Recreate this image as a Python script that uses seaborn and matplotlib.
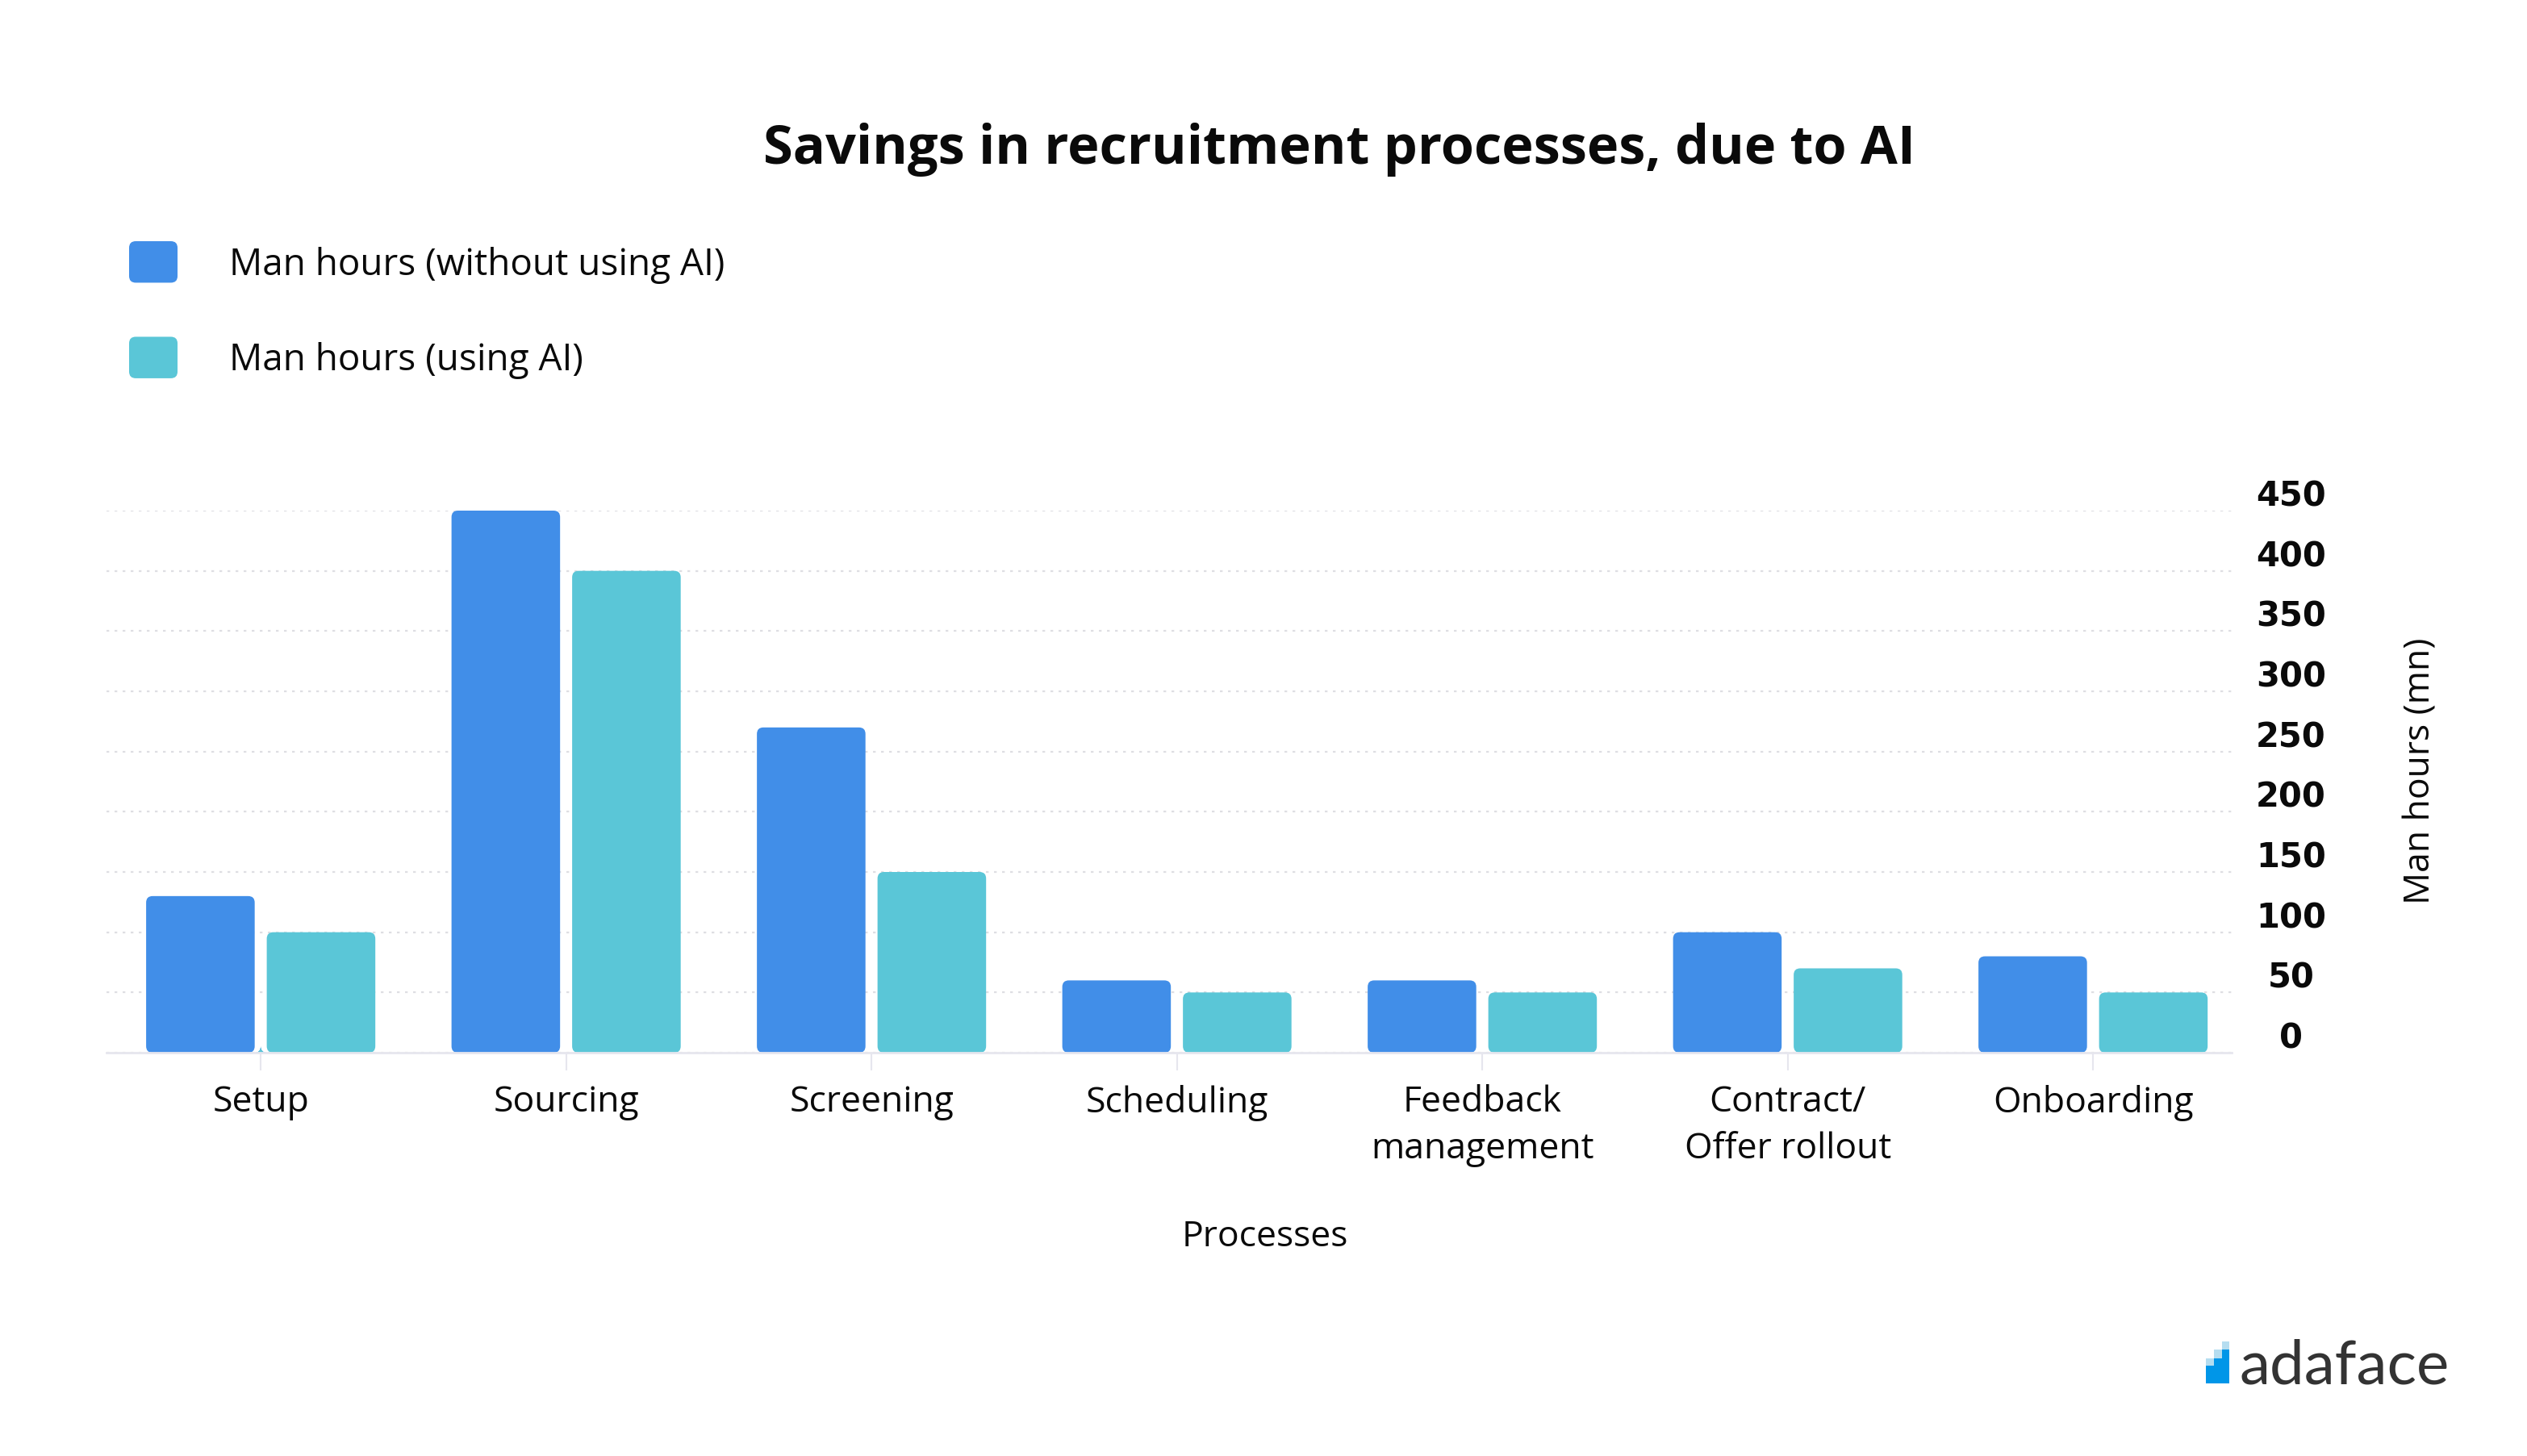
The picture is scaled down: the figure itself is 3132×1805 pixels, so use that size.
import matplotlib
matplotlib.use("Agg")
import matplotlib.pyplot as plt
import seaborn as sns
import pandas as pd
from matplotlib.patches import FancyBboxPatch, Rectangle
from matplotlib.legend_handler import HandlerPatch
from matplotlib.transforms import ScaledTranslation

# ---- data ----
categories = ["Setup", "Sourcing", "Screening", "Scheduling",
              "Feedback\nmanagement", "Contract/\nOffer rollout", "Onboarding"]
without_ai = [130, 450, 270, 60, 60, 100, 80]
with_ai = [100, 400, 150, 50, 50, 70, 50]
series_names = ["Man hours (without using AI)", "Man hours (using AI)"]
y_ticks = [0, 50, 100, 150, 200, 250, 300, 350, 400, 450]

title = "Savings in recruitment processes, due to AI"
x_label = "Processes"
y_label = "Man hours (mn)"

BLUE = "#418EE8"
TEAL = "#5AC6D7"
TXT = "#0a0a0a"
WT = 500

df = pd.DataFrame({
    "Process": categories * 2,
    "Hours": without_ai + with_ai,
    "Series": [series_names[0]] * len(categories) + [series_names[1]] * len(categories),
})

sns.set_theme(style="white")
FONT = ["Open Sans", "DejaVu Sans"]
plt.rcParams["font.family"] = FONT

W, H, DPI = 3132, 1806, 100
fig = plt.figure(figsize=(W / DPI, H / DPI), dpi=DPI)
ax_left, ax_right, ax_top, ax_bot = 132, 2766, 634, 1306
ax = fig.add_axes([ax_left / W, 1 - ax_bot / H, (ax_right - ax_left) / W, (ax_bot - ax_top) / H])

sns.barplot(data=df, x="Process", y="Hours", hue="Series", palette=[BLUE, TEAL],
            width=0.79, gap=0.1, saturation=1, ax=ax, legend=True)

ax.set_xlim(-0.505, 6.454)
ax.set_ylim(0, 450)
ax.set_yticks(y_ticks)
ax.set_axisbelow(True)

# round the bar corners
fig.canvas.draw()
bb = ax.get_window_extent()
xl = ax.get_xlim(); yl = ax.get_ylim()
ux = (xl[1] - xl[0]) / bb.width
uy = (yl[1] - yl[0]) / bb.height
r_px = 8
for p in list(ax.patches):
    x, y = p.get_x(), p.get_y()
    w, h = p.get_width(), p.get_height()
    fc = p.get_facecolor()
    p.remove()
    fp = FancyBboxPatch((x, y), w, h,
                        boxstyle=f"round,pad=0,rounding_size={r_px * ux}",
                        mutation_aspect=uy / ux, facecolor=fc, edgecolor="none", zorder=2)
    ax.add_patch(fp)

# grid
ax.yaxis.grid(True, color="#dedee3", linestyle=(0, (1.5, 3)), linewidth=1.6)
ax.xaxis.grid(False)
for s in ["top", "left", "right"]:
    ax.spines[s].set_visible(False)
ax.spines["bottom"].set_color("#e6e6ee")
ax.spines["bottom"].set_linewidth(2)

# axes ticks
ax.yaxis.tick_right()
ax.tick_params(axis="y", length=0, pad=53, labelsize=30, labelcolor=TXT)
for t in ax.get_yticklabels():
    t.set_ha("center")
    t.set_fontweight("bold")
    t.set_family(["DejaVu Sans"])
    t.set_transform(t.get_transform() + ScaledTranslation(0, 0.23, fig.dpi_scale_trans))

ax.tick_params(axis="x", length=16, width=1.5, color="#e6e6ee", pad=12,
               labelsize=32, labelcolor=TXT, bottom=True)
for t in ax.get_xticklabels():
    t.set_linespacing(1.38)
    t.set_fontweight(WT)

ax.set_xlabel(x_label, fontsize=32, color=TXT, fontweight=WT)
ax.xaxis.set_label_coords((1568 - ax_left) / (ax_right - ax_left), -0.3065)
ax.set_ylabel(y_label, fontsize=32, color=TXT, fontweight=WT)
ax.yaxis.set_label_position("right")
ax.yaxis.label.set_va("center")
ax.yaxis.label.set_ha("center")
ax.yaxis.set_label_coords((3000 - ax_left) / (ax_right - ax_left), (ax_bot - 956) / (ax_bot - ax_top))

# legend
leg = ax.get_legend()
handles = leg.legend_handles
labels = [t.get_text() for t in leg.texts]
leg.remove()


class RoundHandler(HandlerPatch):
    def create_artists(self, legend, orig_handle, xdescent, ydescent, width, height, fontsize, trans):
        p = FancyBboxPatch((-xdescent, -ydescent), width, height,
                           boxstyle=f"round,pad=0,rounding_size={0.16 * height}",
                           facecolor=orig_handle.get_facecolor(), edgecolor="none",
                           transform=trans)
        return [p]


fig.legend(handles, labels, handler_map={h: RoundHandler() for h in handles},
           loc="upper left", bbox_to_anchor=(160 / W, 1 - 300 / H),
           frameon=False, borderpad=0, borderaxespad=0,
           handlelength=1.31, handleheight=1.35,
           handletextpad=1.4, labelspacing=1.45,
           prop={"size": 33, "family": FONT, "weight": WT}, labelcolor=TXT)

# title
fig.text(1660 / W, 1 - 203 / H, title, ha="center", va="baseline",
         fontsize=48, fontweight="bold", color=TXT)

# logo
logo_dark = "#0096E8"
logo_light = "#B5DDF0"
def fig_rect(x0, y0, x1, y1, c):
    fig.patches.append(Rectangle((x0 / W, 1 - y1 / H), (x1 - x0) / W, (y1 - y0) / H,
                                 transform=fig.transFigure, facecolor=c, edgecolor="none"))
fig_rect(2734, 1694, 2744, 1716, logo_dark)
fig_rect(2734, 1685, 2744, 1694, logo_light)
fig_rect(2744, 1685, 2754, 1716, logo_dark)
fig_rect(2744, 1674, 2754, 1685, logo_light)
fig_rect(2754, 1674, 2763, 1716, logo_dark)
fig_rect(2754, 1664, 2763, 1674, logo_light)
fig.text(2776 / W, 1 - 1716 / H, "adaface", ha="left", va="baseline",
         fontsize=55, color="#333333", family=["Lato", "DejaVu Sans"])

fig.savefig("out.png", dpi=DPI)
